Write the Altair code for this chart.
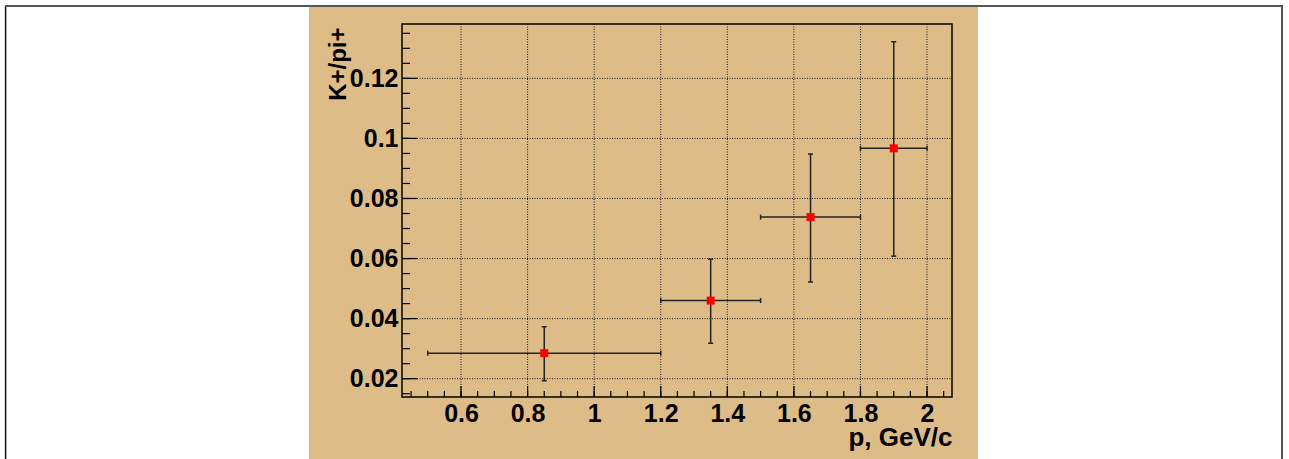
import altair as alt
import pandas as pd

# Measured K+/pi+ ratio in momentum bins
p_center = [0.85, 1.35, 1.65, 1.9]
p_low = [0.5, 1.2, 1.5, 1.8]
p_high = [1.2, 1.5, 1.8, 2.0]
ratio = [0.0285, 0.0460, 0.0738, 0.0967]
ratio_low = [0.0193, 0.0318, 0.0522, 0.0608]
ratio_high = [0.0373, 0.0598, 0.0948, 0.1322]

# Axis ranges and tick positions
x_range = [0.4227, 2.075]
y_range = [0.0139, 0.1381]
x_major = [0.6, 0.8, 1.0, 1.2, 1.4, 1.6, 1.8, 2.0]
y_major = [0.02, 0.04, 0.06, 0.08, 0.10, 0.12]
x_minor = [round(0.45 + 0.05 * i, 3) for i in range(33)]
y_minor = [round(0.015 + 0.005 * i, 4) for i in range(25)]

W, H = 550, 373
FONT = "Liberation Sans"
TAN = "#debc88"

pts = pd.DataFrame({"p": p_center, "plo": p_low, "phi": p_high,
                    "r": ratio, "rlo": ratio_low, "rhi": ratio_high})
hcaps = pd.DataFrame({"p": p_center * 2, "r": ratio_low + ratio_high})
vcaps = pd.DataFrame({"p": p_low + p_high, "r": ratio * 2})
one = pd.DataFrame({"k": [0]})

xs = alt.Scale(domain=x_range, nice=False, zero=False)
ys = alt.Scale(domain=y_range, nice=False, zero=False)

xaxis = alt.Axis(values=x_major, format="~g", labelFont=FONT, labelFontWeight="bold",
                 labelFontSize=25, labelColor="black", ticks=False, tickSize=0,
                 domain=False, grid=False, labelPadding=4, labelFlush=False,
                 labelOverlap=False, title="p, GeV/c", titleFont=FONT,
                 titleFontWeight="bold", titleFontSize=26, titleColor="black",
                 titleX=W, titleY=48, titleAlign="right", titleBaseline="alphabetic",
                 zindex=1)
yaxis = alt.Axis(values=y_major, format="~g", labelFont=FONT, labelFontWeight="bold",
                 labelFontSize=25, labelColor="black", ticks=False, tickSize=0,
                 domain=False, grid=False, labelPadding=4, labelFlush=False,
                 labelOverlap=False, title="K+/pi+", titleFont=FONT,
                 titleFontWeight="bold", titleFontSize=24, titleColor="black",
                 titleX=-57, titleY=3, titleAngle=270, titleAlign="right",
                 titleBaseline="alphabetic", zindex=1)


def X(field):
    return alt.X(field, scale=xs, axis=xaxis)


def Y(field):
    return alt.Y(field, scale=ys, axis=yaxis)


base = alt.Chart(one)

# Canvas pad and outer border
pad = base.mark_rect(color=TAN).encode(
    x=alt.value(-93), x2=alt.value(576), y=alt.value(-17), y2=alt.value(440))
border_left = base.mark_rule(color="#111111", strokeWidth=1.5).encode(
    x=alt.value(-396.4), y=alt.value(-19), y2=alt.value(440))
border_top = base.mark_rule(color="#555555", strokeWidth=2).encode(
    x=alt.value(-397), x2=alt.value(881), y=alt.value(-18))
border_right = base.mark_rule(color="#555555", strokeWidth=2).encode(
    x=alt.value(880), y=alt.value(-19), y2=alt.value(440))

# Dotted grid
gx = alt.Chart(pd.DataFrame({"v": x_major})).mark_rule(
    color="#1a1a1a", strokeWidth=1, strokeDash=[1, 1.5]).encode(
    x=X("v:Q"), y=alt.value(0), y2=alt.value(H))
gy = alt.Chart(pd.DataFrame({"v": y_major})).mark_rule(
    color="#1a1a1a", strokeWidth=1, strokeDash=[1, 1.5]).encode(
    y=Y("v:Q"), x=alt.value(0), x2=alt.value(W))

# Error bars with end caps
ebar_style = dict(color="#222222", strokeWidth=1.5)
xerr = alt.Chart(pts).mark_rule(**ebar_style).encode(
    x=X("plo:Q"), x2="phi:Q", y=Y("r:Q"))
yerr = alt.Chart(pts).mark_rule(**ebar_style).encode(
    x=X("p:Q"), y=Y("rlo:Q"), y2="rhi:Q")
cap_h = alt.Chart(hcaps).mark_tick(orient="horizontal", size=5, thickness=1.5,
                                   color="#222222", opacity=1).encode(
    x=X("p:Q"), y=Y("r:Q"))
cap_v = alt.Chart(vcaps).mark_tick(orient="vertical", size=5, thickness=1.5,
                                   color="#222222", opacity=1).encode(
    x=X("p:Q"), y=Y("r:Q"))

points = alt.Chart(pts).mark_square(size=64, color="#ff0000", opacity=1).encode(
    x=X("p:Q"), y=Y("r:Q"))

# Frame and inward-pointing ticks
frame = base.mark_rect(fill=None, stroke="black", strokeWidth=1.5).encode(
    x=alt.value(0), x2=alt.value(W), y=alt.value(0), y2=alt.value(H))
tick_style = dict(color="black", strokeWidth=1.2)
tx_major = alt.Chart(pd.DataFrame({"v": x_major})).mark_rule(**tick_style).encode(
    x=X("v:Q"), y=alt.value(H - 11), y2=alt.value(H))
tx_minor = alt.Chart(pd.DataFrame({"v": x_minor})).mark_rule(**tick_style).encode(
    x=X("v:Q"), y=alt.value(H - 6), y2=alt.value(H))
ty_major = alt.Chart(pd.DataFrame({"v": y_major})).mark_rule(**tick_style).encode(
    y=Y("v:Q"), x=alt.value(0), x2=alt.value(16))
ty_minor = alt.Chart(pd.DataFrame({"v": y_minor})).mark_rule(**tick_style).encode(
    y=Y("v:Q"), x=alt.value(0), x2=alt.value(8))

chart = alt.layer(
    pad, border_left, border_top, border_right, gx, gy,
    xerr, yerr, cap_h, cap_v, points, frame,
    tx_major, tx_minor, ty_major, ty_minor,
).properties(
    width=W, height=H,
    autosize=alt.AutoSizeParams(type="none"),
    padding={"left": 402, "top": 24, "right": 337, "bottom": 62},
    background="white",
).configure_view(stroke=None, fill=None)

chart.save("out.html", embed_options={"renderer": "svg", "actions": False})
